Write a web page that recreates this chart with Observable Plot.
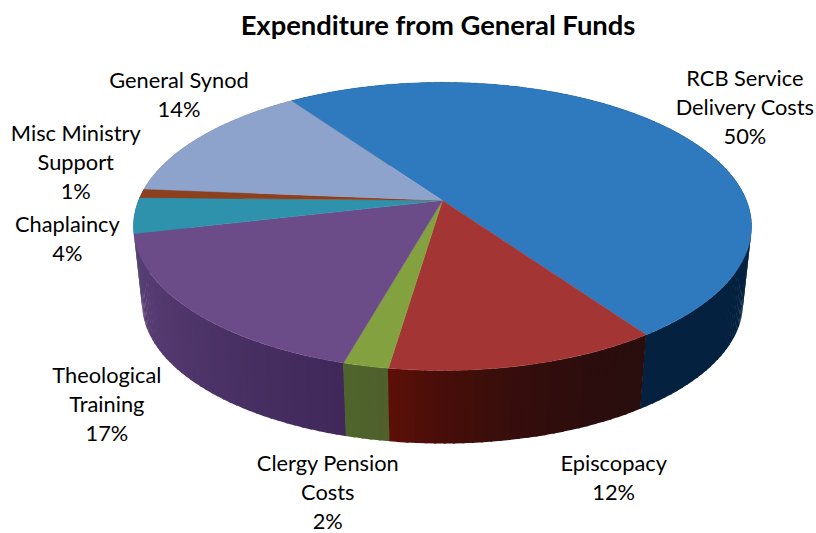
<!DOCTYPE html>
<html>
<head>
<meta charset="utf-8">
<script src="https://cdn.jsdelivr.net/npm/d3@7"></script>
<script src="https://cdn.jsdelivr.net/npm/@observablehq/plot@0.6"></script>
<style>
  html, body { margin: 0; padding: 0; background: #fff; }
  #title {
    box-sizing: border-box; width: 816px; height: 50px; padding: 8px 0 0 60px; margin: 0;
    text-align: center; font: 700 27.4px/34px Lato, sans-serif; color: #000;
  }
  svg { display: block; }
</style>
</head>
<body>
<h1 id="title">Expenditure from General Funds</h1>
<div id="chart"></div>
<script>
// Expenditure shares, in drawing order, clockwise
const categories = ["RCB Service\nDelivery Costs", "Episcopacy", "Clergy Pension\nCosts", "Theological\nTraining", "Chaplaincy", "Misc Ministry\nSupport", "General Synod"];
const shares = [50, 12, 2, 17, 4, 1, 14];

// Face colours and wall shading (start and end of each slice's wall, with easing power)
const faceColors = ["#2f79bf", "#a33634", "#83a13f", "#6b4c89", "#2f92ad", "#8d401e", "#8ea3cb"];
const wallFrom = ["#04223f", "#2a0d0d", "#4f602c", "#40285a", "#1c5a6b", "#572812", "#56647f"];
const wallTo = ["#04223f", "#5e0f07", "#4f642c", "#5c4178", "#1c5a6b", "#572812", "#56647f"];
const wallEase = [1, 2.4, 1, 1, 1, 1, 1];

// Label offsets from the rim point at each slice's middle, in pixels
const labelDx = [76, 87, -38, -85, -67, -66, -22];
const labelDy = [-23, 111, 125, 92, 22, -33, -43];

// Tilted-disc projection: unit disc to chart units, nearer rim drawn larger
const width = 816, height = 483;
const pxX = 304, pxY = 139.4, centerX = 442, centerY = 150;
const startAngle = -34.8, perspective = 0.18;
const wallScale = 0.972, wallDrop = 0.558;
const rad = Math.PI / 180;

function rim(deg) {
  const u = Math.sin(deg * rad), v = -Math.cos(deg * rad), w = 1 - perspective * v;
  return [u / w, v / w];
}
const lower = ([x, y]) => [x * wallScale, y * wallScale + wallDrop];

const total = d3.sum(shares);
let running = startAngle;
const slices = shares.map((share, i) => {
  const a0 = running, a1 = (running += (share / total) * 360);
  return {i, a0, a1, mid: (a0 + a1) / 2};
});

function arc(a0, a1, step) {
  const n = Math.max(1, Math.ceil((a1 - a0) / step));
  return d3.range(n + 1).map((k) => a0 + ((a1 - a0) * k) / n);
}

// Top faces: centre point, then the rim, back to the centre
const facePoints = slices.flatMap((s) =>
  [[0, 0], ...arc(s.a0, s.a1, 1).map(rim), [0, 0]].map(([x, y]) => ({x, y, id: s.i, color: faceColors[s.i]}))
);

// Side wall: narrow quads along the rim, painted back to front.
// Each quad runs slightly past its end so neighbours overlap without seams.
const wallQuads = slices.flatMap((s) => {
  const mix = d3.interpolateRgb(wallFrom[s.i], wallTo[s.i]);
  const angles = arc(s.a0, s.a1, 1.5);
  return angles.slice(1).map((a, k) => {
    const p = rim(angles[k]), q = rim(Math.min(a + 0.4, s.a1 + 0.1));
    const t = Math.pow((k + 0.5) / (angles.length - 1), wallEase[s.i]);
    return {depth: p[1] + q[1], color: mix(t), corners: [p, q, lower(q), lower(p)]};
  });
}).sort((a, b) => a.depth - b.depth);
const wallPoints = wallQuads.flatMap((quad, id) =>
  quad.corners.map(([x, y]) => ({x, y, id, color: quad.color}))
);

const chart = Plot.plot({
  width, height,
  margin: 0,
  x: {axis: null, domain: [-centerX / pxX, (width - centerX) / pxX], range: [0, width]},
  y: {axis: null, domain: [-centerY / pxY, (height - centerY) / pxY], range: [0, height]},
  color: {type: "identity"},
  style: {background: "#fff"},
  marks: [
    Plot.line(wallPoints, {x: "x", y: "y", z: "id", fill: "color", stroke: "none", curve: "linear"}),
    Plot.line(facePoints, {x: "x", y: "y", z: "id", fill: "color", stroke: "color", strokeWidth: 0.4, curve: "linear"}),
    ...slices.map((s) => {
      const [x, y] = rim(s.mid);
      return Plot.text([s], {
        x: () => x, y: () => y,
        text: (d) => `${categories[d.i]}\n${shares[d.i]}%`,
        dx: labelDx[s.i], dy: labelDy[s.i],
        fontFamily: "Lato, sans-serif", fontSize: 21.8, lineHeight: 1.33, fill: "#000", lineAnchor: "middle"
      });
    })
  ]
});
document.getElementById("chart").append(chart);
</script>
</body>
</html>
